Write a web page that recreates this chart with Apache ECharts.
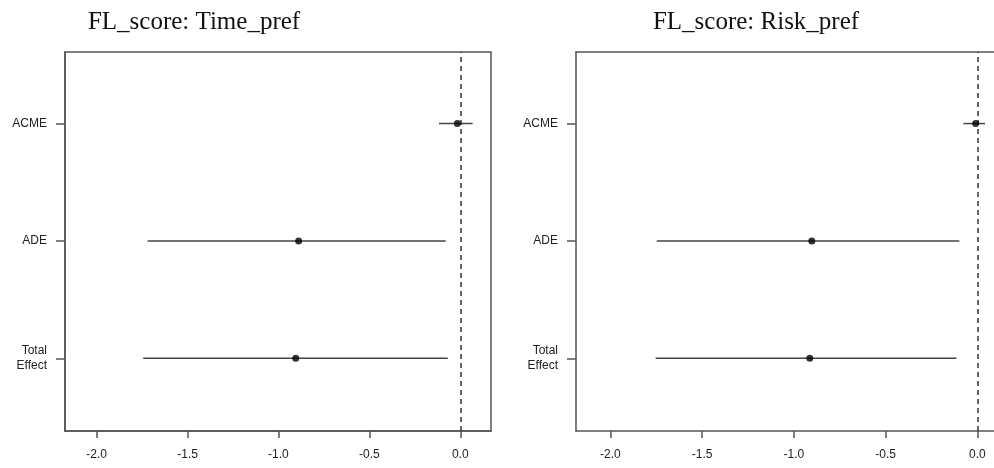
<!DOCTYPE html>
<html>
<head>
<meta charset="utf-8">
<script src="https://cdn.jsdelivr.net/npm/echarts@6/dist/echarts.min.js"></script>
<style>
  html, body { margin: 0; padding: 0; background: #fff; }
  #main { width: 994px; height: 468px; }
</style>
</head>
<body>
<div id="main"></div>
<script>
// effect rows, top to bottom
const effects = ['ACME', 'ADE', 'Total\nEffect'];
const rowPos = [3, 2, 1];
const xTicks = [-2.0, -1.5, -1.0, -0.5, 0.0];

// FL_score: Time_pref
const timeEst = [-0.016, -0.889, -0.905];
const timeLow = [-0.117, -1.720, -1.744];
const timeHigh = [0.068, -0.080, -0.069];

// FL_score: Risk_pref
const riskEst = [-0.009, -0.902, -0.913];
const riskLow = [-0.076, -1.747, -1.753];
const riskHigh = [0.042, -0.098, -0.114];

const axisColor = '#555';
const labelFont = { fontFamily: 'Liberation Sans, Arial, sans-serif', fontSize: 12, color: '#222' };

function makeX(idx, min, max) {
  return {
    type: 'value', gridIndex: idx, min: min, max: max,
    axisLine: { show: true, onZero: false, lineStyle: { color: axisColor, width: 1.5 } },
    axisTick: { show: true, length: 7, customValues: xTicks, lineStyle: { color: axisColor, width: 1.5 } },
    axisLabel: Object.assign({ customValues: xTicks, margin: 18,
      formatter: v => v.toFixed(1) }, labelFont),
    splitLine: { show: false }
  };
}

// plain top border line for the right panel (its right edge runs off the picture)
function topLine(idx, min, max) {
  return {
    type: 'value', gridIndex: idx, position: 'top', min: min, max: max,
    axisLine: { show: true, onZero: false, lineStyle: { color: axisColor, width: 1.5 } },
    axisTick: { show: false }, axisLabel: { show: false }, splitLine: { show: false }
  };
}

function makeY(idx) {
  return {
    type: 'value', gridIndex: idx, min: 0.38, max: 3.61,
    axisLine: { show: true, onZero: false, lineStyle: { color: axisColor, width: 1.5 } },
    axisTick: { show: true, length: 9, customValues: rowPos, lineStyle: { color: axisColor, width: 1.5 } },
    axisLabel: Object.assign({ customValues: rowPos, margin: 18, lineHeight: 15,
      formatter: v => effects[rowPos.indexOf(Math.round(v))] || '' }, labelFont),
    splitLine: { show: false }
  };
}

function ciSeries(idx, low, high) {
  return {
    type: 'custom', xAxisIndex: idx, yAxisIndex: idx,
    data: rowPos.map((y, i) => [low[i], high[i], y]),
    encode: { x: [0, 1], y: 2 },
    renderItem: function (params, api) {
      const a = api.coord([api.value(0), api.value(2)]);
      const b = api.coord([api.value(1), api.value(2)]);
      return { type: 'line', shape: { x1: a[0], y1: a[1], x2: b[0], y2: b[1] },
        style: { stroke: '#444', lineWidth: 1.5 } };
    },
    silent: true
  };
}

function pointSeries(idx, est) {
  return {
    type: 'scatter', xAxisIndex: idx, yAxisIndex: idx, z: 5,
    data: rowPos.map((y, i) => [est[i], y]),
    symbolSize: 7,
    itemStyle: { color: '#000' },
    markLine: {
      silent: true, symbol: 'none', label: { show: false },
      lineStyle: { color: '#333', type: [5, 4], width: 1.5 },
      data: [{ xAxis: 0 }]
    }
  };
}

const titleStyle = { fontFamily: 'Liberation Serif, serif', fontSize: 25, fontWeight: 'normal', color: '#111' };

const chart = echarts.init(document.getElementById('main'));
chart.setOption({
  backgroundColor: '#fff',
  animation: false,
  title: [
    { text: 'FL_score: Time_pref', left: 189, top: 5, textAlign: 'center', textStyle: titleStyle },
    { text: 'FL_score: Risk_pref', left: 751, top: 5, textAlign: 'center', textStyle: titleStyle }
  ],
  grid: [
    { left: 65, width: 426, top: 52, bottom: 37, show: true, borderColor: axisColor, borderWidth: 1.5 },
    { left: 576, right: 0, top: 52, bottom: 37, show: false }
  ],
  xAxis: [makeX(0, -2.174, 0.169), makeX(1, -2.187, 0.091), topLine(1, -2.187, 0.091)],
  yAxis: [makeY(0), makeY(1)],
  series: [
    ciSeries(0, timeLow, timeHigh),
    pointSeries(0, timeEst),
    ciSeries(1, riskLow, riskHigh),
    pointSeries(1, riskEst)
  ]
});
</script>
</body>
</html>
